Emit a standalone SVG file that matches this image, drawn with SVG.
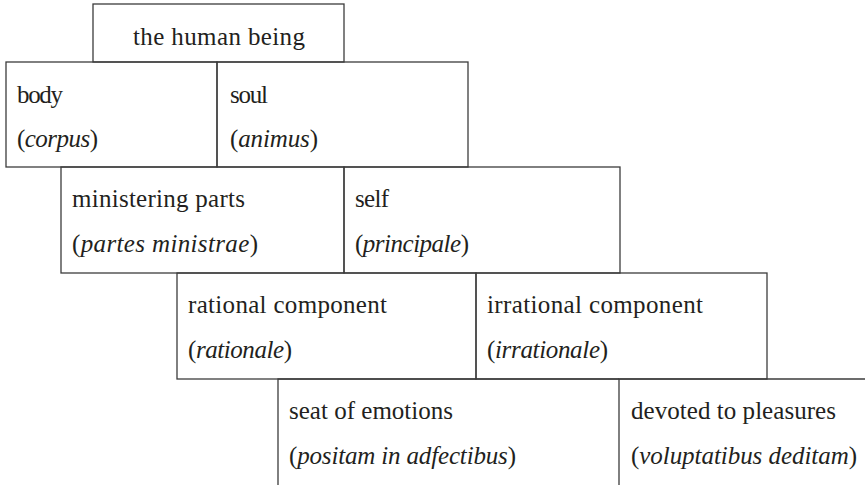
<svg xmlns="http://www.w3.org/2000/svg" width="865" height="485" viewBox="0 0 865 485">
<style>
.b{fill:none;stroke:#3c3c3c;stroke-width:1.3}
text{font-family:"Liberation Serif","Times New Roman",serif;font-size:25px;fill:#231f20}
.i{font-style:italic}
</style>
<rect width="865" height="485" fill="#fff"/>
<g id="human">
<rect class="b" x="93" y="4" width="251" height="58"/>
<text x="133" y="45" textLength="172" lengthAdjust="spacing">the human being</text>
</g>
<g id="body">
<rect class="b" x="6" y="62" width="211" height="105"/>
<text x="17" y="102.5" textLength="46" lengthAdjust="spacing">body</text>
<text x="17" y="147" textLength="81" lengthAdjust="spacing">(<tspan class="i">corpus</tspan>)</text>
</g>
<g id="soul">
<rect class="b" x="217" y="62" width="251" height="105"/>
<text x="230" y="102.5" textLength="38" lengthAdjust="spacing">soul</text>
<text x="230" y="147" textLength="88" lengthAdjust="spacing">(<tspan class="i">animus</tspan>)</text>
</g>
<g id="ministering">
<rect class="b" x="61" y="167" width="283" height="106"/>
<text x="72" y="207" textLength="173" lengthAdjust="spacing">ministering parts</text>
<text x="72" y="252" textLength="186" lengthAdjust="spacing">(<tspan class="i">partes ministrae</tspan>)</text>
</g>
<g id="self">
<rect class="b" x="344" y="167" width="276" height="106"/>
<text x="355" y="207" textLength="34" lengthAdjust="spacing">self</text>
<text x="355" y="252" textLength="114" lengthAdjust="spacing">(<tspan class="i">principale</tspan>)</text>
</g>
<g id="rational">
<rect class="b" x="177" y="273" width="299" height="106"/>
<text x="188" y="313" textLength="199" lengthAdjust="spacing">rational component</text>
<text x="188" y="358" textLength="104" lengthAdjust="spacing">(<tspan class="i">rationale</tspan>)</text>
</g>
<g id="irrational">
<rect class="b" x="476" y="273" width="291" height="106"/>
<text x="487" y="313" textLength="216" lengthAdjust="spacing">irrational component</text>
<text x="487" y="358" textLength="121" lengthAdjust="spacing">(<tspan class="i">irrationale</tspan>)</text>
</g>
<g id="emotions">
<path class="b" d="M278,485V379H619"/>
<text x="289" y="419" textLength="164" lengthAdjust="spacing">seat of emotions</text>
<text x="289" y="464" textLength="227" lengthAdjust="spacing">(<tspan class="i">positam in adfectibus</tspan>)</text>
</g>
<g id="pleasures">
<path class="b" d="M619,485V379H865"/>
<text x="631" y="419" textLength="205" lengthAdjust="spacing">devoted to pleasures</text>
<text x="631" y="464" textLength="226" lengthAdjust="spacing">(<tspan class="i">voluptatibus deditam</tspan>)</text>
</g>
</svg>
